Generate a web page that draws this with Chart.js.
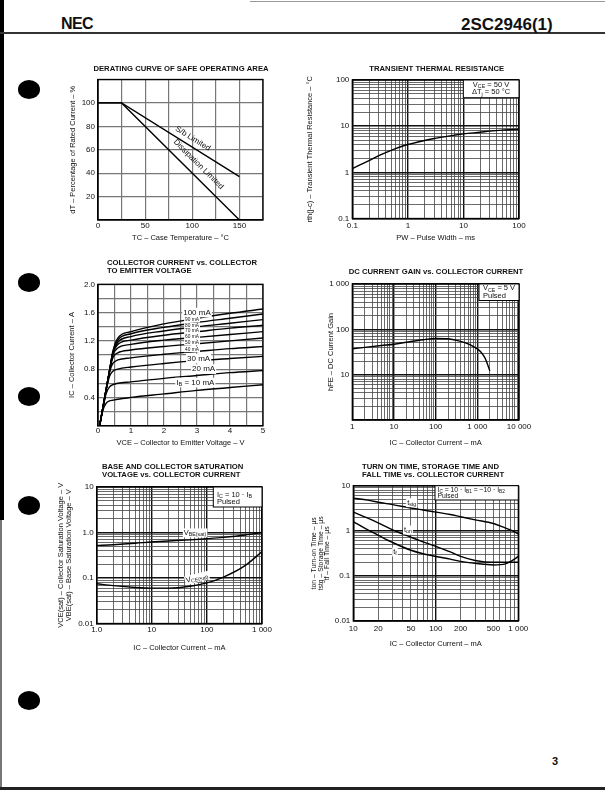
<!DOCTYPE html>
<html><head><meta charset="utf-8">
<script src="https://cdn.jsdelivr.net/npm/chart.js@4.4.1/dist/chart.umd.min.js"></script>
<style>
html,body{margin:0;padding:0;background:#fff;}
body{width:605px;height:790px;position:relative;overflow:hidden;font-family:'Liberation Sans',Arial,Helvetica,sans-serif;color:#111;}
canvas{position:absolute;}
.abs{position:absolute;}
.dot{position:absolute;width:22px;height:19px;border-radius:50%;background:#000;}
</style></head><body>
<div class="abs" style="left:0;top:0;width:4px;height:520px;background:#000"></div>
<div class="abs" style="left:0;top:520px;width:2px;height:270px;background:#777"></div>
<div class="abs" style="left:250px;top:1px;width:355px;height:1px;background:#999"></div>
<div class="abs" style="left:0;top:32px;width:605px;height:1.5px;background:#333"></div>
<div class="abs" style="left:0;top:787px;width:605px;height:3px;background:#222"></div>
<div class="abs" style="left:61px;top:16px;font-weight:bold;font-size:16px;line-height:16px;letter-spacing:-0.6px;">NEC</div>
<div class="abs" style="left:461px;top:15.8px;font-weight:bold;font-size:17px;line-height:17px;">2SC2946(1)</div>
<div class="abs" style="left:552px;top:756px;font-weight:bold;font-size:11px;line-height:11px;">3</div>
<div class="dot" style="left:18px;top:80px"></div>
<div class="dot" style="left:18px;top:273px"></div>
<div class="dot" style="left:18px;top:387px"></div>
<div class="dot" style="left:18px;top:496px"></div>
<div class="dot" style="left:18px;top:691px"></div>
<canvas id="cA"></canvas>
<canvas id="cB"></canvas>
<canvas id="cC"></canvas>
<canvas id="cD"></canvas>
<canvas id="cE"></canvas>
<canvas id="cF"></canvas>
<script>
// ================= DATA =================
// Derating curve of safe operating area
const deratingTemp = [0, 25, 150];
const sbLimitedPct = [100, 100, 37];
const dissipationLimitedPct = [100, 100, 0];
const deratingXTicks = [0, 50, 100, 150];
const deratingXLabels = ['0', '50', '100', '150'];
const deratingYTicks = [20, 40, 60, 80, 100];
const deratingYLabels = ['20', '40', '60', '80', '100'];

// Transient thermal resistance
const pulseWidthMs = [0.1, 0.2, 0.3, 0.5, 0.7, 1, 2, 3, 5, 7, 10, 20, 30, 50, 100];
const rthValues = [1.2, 1.8, 2.3, 3.0, 3.5, 4.0, 4.9, 5.4, 6.0, 6.4, 6.8, 7.4, 7.8, 8.2, 8.6];
const rthXTicks = [0.1, 1, 10, 100];
const rthXLabels = ['0.1', '1', '10', '100'];
const rthYTicks = [0.1, 1, 10, 100];
const rthYLabels = ['0.1', '1', '10', '100'];

// Collector current vs collector to emitter voltage
const vceVolts = [0.05, 0.15, 0.25, 0.35, 0.45, 0.6, 1, 2, 3, 4, 5];
const ic10mA  = [0, 0.22, 0.32, 0.35, 0.36, 0.375, 0.40, 0.45, 0.50, 0.54, 0.58];
const ic20mA  = [0, 0.25, 0.46, 0.55, 0.58, 0.60, 0.62, 0.67, 0.71, 0.75, 0.78];
const ic30mA  = [0, 0.26, 0.51, 0.70, 0.77, 0.80, 0.83, 0.88, 0.92, 0.95, 0.98];
const ic40mA  = [0, 0.26, 0.52, 0.76, 0.88, 0.93, 0.96, 1.01, 1.05, 1.09, 1.12];
const ic50mA  = [0, 0.26, 0.52, 0.77, 0.96, 1.03, 1.07, 1.12, 1.16, 1.20, 1.24];
const ic60mA  = [0, 0.26, 0.52, 0.78, 1.00, 1.10, 1.15, 1.21, 1.25, 1.29, 1.33];
const ic70mA  = [0, 0.26, 0.52, 0.78, 1.02, 1.15, 1.21, 1.28, 1.33, 1.38, 1.42];
const ic80mA  = [0, 0.26, 0.52, 0.78, 1.03, 1.18, 1.26, 1.34, 1.40, 1.45, 1.50];
const ic90mA  = [0, 0.26, 0.52, 0.78, 1.04, 1.21, 1.30, 1.39, 1.46, 1.52, 1.58];
const ic100mA = [0, 0.26, 0.52, 0.78, 1.05, 1.24, 1.33, 1.44, 1.52, 1.59, 1.65];
const icXTicks = [0, 1, 2, 3, 4, 5];
const icXLabels = ['0', '1', '2', '3', '4', '5'];
const icYTicks = [0.4, 0.8, 1.2, 1.6, 2.0];
const icYLabels = ['0.4', '0.8', '1.2', '1.6', '2.0'];

// DC current gain vs collector current
const hfeIcMa = [1, 2, 5, 10, 20, 50, 100, 200, 300, 500, 700, 1000, 1200, 1500, 1800, 2000];
const hfeValues = [37, 40, 44, 47, 52, 59, 63, 62, 58, 51, 45, 37, 32, 24, 16, 12];
const hfeXTicks = [1, 10, 100, 1000, 10000];
const hfeXLabels = ['1', '10', '100', '1 000', '10 000'];
const hfeYTicks = [10, 100, 1000];
const hfeYLabels = ['10', '100', '1 000'];

// Base and collector saturation voltage
const satIcMa = [1, 2, 5, 10, 20, 50, 100, 200, 500, 1000];
const vbeSatV = [0.52, 0.54, 0.58, 0.62, 0.65, 0.69, 0.73, 0.78, 0.88, 1.0];
const vceSatV = [0.075, 0.068, 0.062, 0.060, 0.060, 0.066, 0.078, 0.105, 0.19, 0.38];
const satXTicks = [1, 10, 100, 1000];
const satXLabels = ['1.0', '10', '100', '1 000'];
const satYTicks = [0.01, 0.1, 1, 10];
const satYLabels = ['0.01', '0.1', '1.0', '10'];

// Switching times
const swIcMa = [10, 15, 20, 30, 50, 70, 100, 150, 200, 300, 500, 700, 850, 1000];
const tstgUs = [5.3, 4.8, 4.3, 3.8, 3.2, 2.9, 2.6, 2.3, 2.05, 1.75, 1.45, 1.15, 1.0, 0.85];
const tonUs  = [2.6, 1.9, 1.5, 1.05, 0.72, 0.57, 0.45, 0.34, 0.27, 0.22, 0.20, 0.20, 0.20, 0.20];
const tfUs   = [1.6, 1.05, 0.8, 0.55, 0.37, 0.31, 0.27, 0.235, 0.21, 0.19, 0.175, 0.185, 0.22, 0.27];
const swXTicks = [10, 20, 50, 100, 200, 500, 1000];
const swXLabels = ['10', '20', '50', '100', '200', '500', '1 000'];
const swYTicks = [0.01, 0.1, 1, 10];
const swYLabels = ['0.01', '0.1', '1', '10'];

// ================= HELPERS =================
const FAM = "'Liberation Sans', Arial, Helvetica, sans-serif";
Chart.defaults.font.family = FAM;
Chart.defaults.font.size = 8;
Chart.defaults.color = '#111';
Chart.defaults.animation = false;

function zip(xs, ys) { return xs.map((x, i) => ({x: x, y: ys[i]})); }
function logGrid(min, max) {
  const out = [];
  for (let e = Math.floor(Math.log10(min)); e <= Math.ceil(Math.log10(max)); e++) {
    for (let m = 1; m <= 9; m++) {
      const v = Number((m * Math.pow(10, e)).toPrecision(6));
      if (v >= min * 0.999999 && v <= max * 1.000001) out.push(v);
    }
  }
  return out;
}
function linGrid(min, max, step) {
  const out = [];
  for (let i = 0; min + i * step <= max + 1e-9; i++) out.push(Number((min + i * step).toFixed(6)));
  return out;
}
function labelFor(ticks, labels) {
  return function (value) {
    for (let i = 0; i < ticks.length; i++) {
      if (Math.abs(ticks[i] - value) <= 1e-7 * Math.max(1, Math.abs(ticks[i]))) return labels[i];
    }
    return '';
  };
}
function isDecade(v) { const l = Math.log10(v); return Math.abs(l - Math.round(l)) < 1e-6; }

function segs(str) {
  const out = []; const re = /_\{([^}]*)\}/g; let last = 0, m;
  while ((m = re.exec(str))) {
    if (m.index > last) out.push({t: str.slice(last, m.index), sub: false});
    out.push({t: m[1], sub: true}); last = re.lastIndex;
  }
  if (last < str.length) out.push({t: str.slice(last), sub: false});
  return out;
}
function richWidth(ctx, str, size) {
  let w = 0;
  for (const s of segs(str)) { ctx.font = (s.sub ? size * 0.7 : size) + 'px ' + FAM; w += ctx.measureText(s.t).width; }
  return w;
}
function drawRich(ctx, str, x, y, size, align) {
  const w = richWidth(ctx, str, size);
  let cx = align === 'center' ? x - w / 2 : (align === 'right' ? x - w : x);
  ctx.textAlign = 'left'; ctx.textBaseline = 'middle';
  for (const s of segs(str)) {
    const fs = s.sub ? size * 0.7 : size;
    ctx.font = fs + 'px ' + FAM;
    ctx.fillText(s.t, cx, y + (s.sub ? size * 0.25 : 0));
    cx += ctx.measureText(s.t).width;
  }
}

const annotPlugin = {
  id: 'annot',
  afterDraw(chart) {
    const o = chart.options.plugins.annot; if (!o) return;
    const ctx = chart.ctx; const ox = o.origin[0], oy = o.origin[1];
    const ca = chart.chartArea;
    ctx.save();
    ctx.strokeStyle = '#000'; ctx.lineWidth = 1.3;
    ctx.strokeRect(ca.left, ca.top, ca.right - ca.left, ca.bottom - ca.top);
    ctx.fillStyle = '#111';
    for (const t of (o.titles || [])) {
      ctx.font = 'bold ' + (t.size || 7.7) + 'px ' + FAM;
      ctx.textAlign = t.align || 'center'; ctx.textBaseline = 'middle';
      ctx.fillText(t.text, t.x - ox, t.y - oy);
    }
    if (o.box) {
      const b = o.box;
      ctx.fillStyle = '#fff'; ctx.fillRect(b.x0 - ox, b.y0 - oy, b.x1 - b.x0, b.y1 - b.y0);
      ctx.strokeStyle = '#000'; ctx.lineWidth = 1; ctx.strokeRect(b.x0 - ox, b.y0 - oy, b.x1 - b.x0, b.y1 - b.y0);
      ctx.fillStyle = '#111';
      for (const l of b.lines) drawRich(ctx, l.text, l.x - ox, l.y - oy, l.size || 7.2, l.align || 'left');
    }
    const xs = chart.scales.x, ys = chart.scales.y;
    for (const l of (o.labels || [])) {
      const px = xs.getPixelForValue(l.x), py = ys.getPixelForValue(l.y);
      let rot = (l.rot || 0) * Math.PI / 180;
      if (l.along) {
        const a = l.along[0], b = l.along[1];
        rot = Math.atan2(ys.getPixelForValue(b[1]) - ys.getPixelForValue(a[1]), xs.getPixelForValue(b[0]) - xs.getPixelForValue(a[0]));
      }
      ctx.save(); ctx.translate(px, py); ctx.rotate(rot);
      const w = richWidth(ctx, l.text, l.size);
      if (l.bg) { ctx.fillStyle = '#fff'; ctx.fillRect(-w / 2 - 1, -l.size * 0.6, w + 2, l.size * 1.2); }
      ctx.fillStyle = '#111'; drawRich(ctx, l.text, 0, 0, l.size, 'center');
      ctx.restore();
    }
    ctx.restore();
  }
};

function gridStyle(type) {
  if (type === 'logarithmic') {
    return {
      drawTicks: false,
      color: c => (c.tick && isDecade(c.tick.value)) ? '#111' : '#444',
      lineWidth: c => (c.tick && isDecade(c.tick.value)) ? 1.4 : 0.8
    };
  }
  return {drawTicks: false, color: '#777', lineWidth: 1.2};
}

function makeChart(s) {
  const g = s.geo, p = g.plot;
  const cv = document.getElementById(s.id);
  cv.width = g.right - g.left; cv.height = g.bottom - g.top;
  cv.style.left = g.left + 'px'; cv.style.top = g.top + 'px';
  const axW = p[0] - g.left, axH = g.bottom - p[3];
  const xtLH = s.x.titleSize * 1.2;
  const ytLH = s.y.titleLH || s.y.titleSize * 1.2;
  new Chart(cv, {
    type: 'line',
    data: {datasets: s.datasets.map(d => Object.assign({
      borderColor: '#000', borderWidth: 1.4, pointRadius: 0, fill: false,
      cubicInterpolationMode: 'monotone'
    }, d))},
    options: {
      responsive: false, animation: false, devicePixelRatio: 1,
      layout: {padding: {left: 0, top: p[1] - g.top, right: g.right - p[2], bottom: 0}},
      plugins: {legend: {display: false}, tooltip: {enabled: false}, title: {display: false},
        annot: {origin: [g.left, g.top], titles: s.titles, labels: s.labels, box: s.box}},
      scales: {
        x: {
          type: s.x.type, min: s.x.min, max: s.x.max, position: 'bottom',
          afterBuildTicks: sc => { sc.ticks = s.x.grid.map(v => ({value: v})); },
          afterFit: sc => { sc.height = axH; },
          ticks: {autoSkip: false, maxRotation: 0, minRotation: 0, color: '#111', font: {size: 8},
            padding: Math.max(0, s.x.tickCenter - p[3] - 4.8), callback: labelFor(s.x.ticks, s.x.labels)},
          grid: gridStyle(s.x.type),
          border: {display: true, color: '#000', width: 1.3},
          title: {display: true, text: s.x.title, color: '#111', font: {size: s.x.titleSize},
            padding: {top: 0, bottom: g.bottom - s.x.titleCenter - xtLH / 2}}
        },
        y: {
          type: s.y.type, min: s.y.min, max: s.y.max, position: 'left',
          afterBuildTicks: sc => { sc.ticks = s.y.grid.map(v => ({value: v})); },
          afterFit: sc => { sc.width = axW; },
          ticks: {autoSkip: false, color: '#111', font: {size: 8}, padding: 3,
            callback: labelFor(s.y.ticks, s.y.labels)},
          grid: gridStyle(s.y.type),
          border: {display: true, color: '#000', width: 1.3},
          title: {display: true, text: s.y.title, color: '#111',
            font: {size: s.y.titleSize, lineHeight: ytLH / s.y.titleSize},
            padding: {top: s.y.titleX - g.left - ytLH / 2, bottom: 0}}
        }
      }
    },
    plugins: [annotPlugin]
  });
}

// ================= CHARTS =================
makeChart({
  id: 'cA',
  geo: {plot: [98, 79.5, 263, 220], left: 58, top: 58, right: 281, bottom: 250},
  x: {type: 'linear', min: 0, max: 175, grid: linGrid(0, 175, 25), ticks: deratingXTicks, labels: deratingXLabels,
      title: 'TC – Case Temperature – °C', titleSize: 7.5, tickCenter: 225.7, titleCenter: 238.3},
  y: {type: 'linear', min: 0, max: 120, grid: linGrid(0, 120, 20), ticks: deratingYTicks, labels: deratingYLabels,
      title: 'dT – Percentage of Rated Current – %', titleSize: 7.5, titleX: 72.7},
  datasets: [
    {data: zip(deratingTemp, sbLimitedPct), cubicInterpolationMode: 'default', tension: 0},
    {data: zip(deratingTemp, dissipationLimitedPct), cubicInterpolationMode: 'default', tension: 0}
  ],
  titles: [{text: 'DERATING CURVE OF SAFE OPERATING AREA', x: 181, y: 68.5}],
  labels: [
    {text: 'S/b Limited', x: 100.6, y: 69.5, size: 8, along: [[25, 100], [150, 37]]},
    {text: 'Dissipation Limited', x: 106.6, y: 47.5, size: 8, along: [[25, 100], [150, 0]]}
  ]
});

makeChart({
  id: 'cB',
  geo: {plot: [352.3, 80, 519, 218.5], left: 300, top: 58, right: 537, bottom: 250},
  x: {type: 'logarithmic', min: 0.1, max: 100, grid: logGrid(0.1, 100), ticks: rthXTicks, labels: rthXLabels,
      title: 'PW – Pulse Width – ms', titleSize: 7.5, tickCenter: 225.7, titleCenter: 238.3},
  y: {type: 'logarithmic', min: 0.1, max: 100, grid: logGrid(0.1, 100), ticks: rthYTicks, labels: rthYLabels,
      title: 'rth(j-c) – Transient Thermal Resistance – °C', titleSize: 7.5, titleX: 310},
  datasets: [{data: zip(pulseWidthMs, rthValues)}],
  titles: [{text: 'TRANSIENT THERMAL RESISTANCE', x: 436.7, y: 68.5}],
  box: {x0: 463.3, y0: 80, x1: 519, y1: 97.7, lines: [
    {text: 'V_{CE} = 50 V', x: 491, y: 85, size: 7.5, align: 'center'},
    {text: 'ΔT_{j} = 50 °C', x: 491, y: 92.3, size: 7.5, align: 'center'}
  ]}
});

makeChart({
  id: 'cC',
  geo: {plot: [98, 284.3, 263, 425.7], left: 58, top: 252, right: 281, bottom: 452},
  x: {type: 'linear', min: 0, max: 5, grid: linGrid(0, 5, 0.5), ticks: icXTicks, labels: icXLabels,
      title: 'VCE – Collector to Emitter Voltage – V', titleSize: 7.5, tickCenter: 431, titleCenter: 443},
  y: {type: 'linear', min: 0, max: 2, grid: linGrid(0, 2, 0.2), ticks: icYTicks, labels: icYLabels,
      title: 'IC – Collector Current – A', titleSize: 7.5, titleX: 71.7},
  datasets: [ic10mA, ic20mA, ic30mA, ic40mA, ic50mA, ic60mA, ic70mA, ic80mA, ic90mA, ic100mA]
    .map(arr => ({data: zip(vceVolts, arr)})),
  titles: [
    {text: 'COLLECTOR CURRENT vs. COLLECTOR', x: 107, y: 262.5, align: 'left'},
    {text: 'TO EMITTER VOLTAGE', x: 107, y: 270.5, align: 'left'}
  ],
  labels: [
    {text: '100 mA', x: 3.0, y: 1.60, size: 8, bg: true},
    {text: '90 mA', x: 2.85, y: 1.50, size: 4.8, bg: true},
    {text: '80 mA', x: 2.85, y: 1.415, size: 4.8, bg: true},
    {text: '70 mA', x: 2.85, y: 1.34, size: 4.8, bg: true},
    {text: '60 mA', x: 2.85, y: 1.265, size: 4.8, bg: true},
    {text: '50 mA', x: 2.85, y: 1.18, size: 4.8, bg: true},
    {text: '40 mA', x: 2.85, y: 1.08, size: 4.8, bg: true},
    {text: '30 mA', x: 3.05, y: 0.95, size: 8, bg: true},
    {text: '20 mA', x: 3.2, y: 0.80, size: 8, bg: true},
    {text: 'I_{B} = 10 mA', x: 2.95, y: 0.61, size: 8, bg: true}
  ]
});

makeChart({
  id: 'cD',
  geo: {plot: [352.3, 284, 519, 420], left: 300, top: 252, right: 537, bottom: 452},
  x: {type: 'logarithmic', min: 1, max: 10000, grid: logGrid(1, 10000), ticks: hfeXTicks, labels: hfeXLabels,
      title: 'IC – Collector Current – mA', titleSize: 7.5, tickCenter: 426.7, titleCenter: 442.7},
  y: {type: 'logarithmic', min: 1, max: 1000, grid: logGrid(1, 1000), ticks: hfeYTicks, labels: hfeYLabels,
      title: 'hFE – DC Current Gain', titleSize: 7.5, titleX: 330.7},
  datasets: [{data: zip(hfeIcMa, hfeValues)}],
  titles: [{text: 'DC CURRENT GAIN vs. COLLECTOR CURRENT', x: 436, y: 271.5}],
  box: {x0: 479, y0: 284, x1: 519, y1: 300.5, lines: [
    {text: 'V_{CE} = 5 V', x: 483, y: 288.2, size: 7.5},
    {text: 'Pulsed', x: 483, y: 295.5, size: 7.5}
  ]}
});

makeChart({
  id: 'cE',
  geo: {plot: [96.7, 487, 262, 623.5], left: 48, top: 456, right: 280, bottom: 658},
  x: {type: 'logarithmic', min: 1, max: 1000, grid: logGrid(1, 1000), ticks: satXTicks, labels: satXLabels,
      title: 'IC – Collector Current – mA', titleSize: 7.5, tickCenter: 630, titleCenter: 647.7},
  y: {type: 'logarithmic', min: 0.01, max: 10, grid: logGrid(0.01, 10), ticks: satYTicks, labels: satYLabels,
      title: ['VCE(sat) – Collector Saturation Voltage – V', 'VBE(sat) – Base Saturation Voltage – V'],
      titleSize: 7.5, titleLH: 8, titleX: 61},
  datasets: [{data: zip(satIcMa, vbeSatV)}, {data: zip(satIcMa, vceSatV)}],
  titles: [
    {text: 'BASE AND COLLECTOR SATURATION', x: 102, y: 466.5, align: 'left'},
    {text: 'VOLTAGE vs. COLLECTOR CURRENT', x: 102, y: 474.5, align: 'left'}
  ],
  box: {x0: 213.3, y0: 487, x1: 262, y1: 507, lines: [
    {text: 'I_{C} = 10 · I_{B}', x: 217, y: 494.5, size: 7.5},
    {text: 'Pulsed', x: 217, y: 501.7, size: 7.5}
  ]},
  labels: [
    {text: 'V_{BE(sat)}', x: 61, y: 0.98, size: 7.5, bg: true},
    {text: 'V_{CE(sat)}', x: 66, y: 0.1, size: 7.5, bg: true, rot: -14}
  ]
});

makeChart({
  id: 'cF',
  geo: {plot: [353.3, 485.7, 518.3, 621], left: 300, top: 456, right: 537, bottom: 658},
  x: {type: 'logarithmic', min: 10, max: 1000, grid: logGrid(10, 1000), ticks: swXTicks, labels: swXLabels,
      title: 'IC – Collector Current – mA', titleSize: 7.5, tickCenter: 628.3, titleCenter: 644.3},
  y: {type: 'logarithmic', min: 0.01, max: 10, grid: logGrid(0.01, 10), ticks: swYTicks, labels: swYLabels,
      title: ['ton – Turn-on Time – μs', 'tstg – Storage Time – μs', 'tf – Fall Time – μs'],
      titleSize: 6.8, titleLH: 6.8, titleX: 314},
  datasets: [{data: zip(swIcMa, tstgUs)}, {data: zip(swIcMa, tonUs)}, {data: zip(swIcMa, tfUs)}],
  titles: [
    {text: 'TURN ON TIME, STORAGE TIME AND', x: 362, y: 466.5, align: 'left'},
    {text: 'FALL TIME vs. COLLECTOR CURRENT', x: 362, y: 474.5, align: 'left'}
  ],
  box: {x0: 435, y0: 485.7, x1: 518.3, y1: 500, lines: [
    {text: 'I_{C} = 10 · I_{B1} = −10 · I_{B2}', x: 437.5, y: 489.8, size: 6.8},
    {text: 'Pulsed', x: 437.5, y: 496.5, size: 6.8}
  ]},
  labels: [
    {text: 't_{stg}', x: 51, y: 4.2, size: 7.5, bg: true},
    {text: 't_{on}', x: 46, y: 1.04, size: 7.5, bg: true},
    {text: 't_{f}', x: 32, y: 0.34, size: 7.5, bg: true}
  ]
});
</script>
</body></html>
